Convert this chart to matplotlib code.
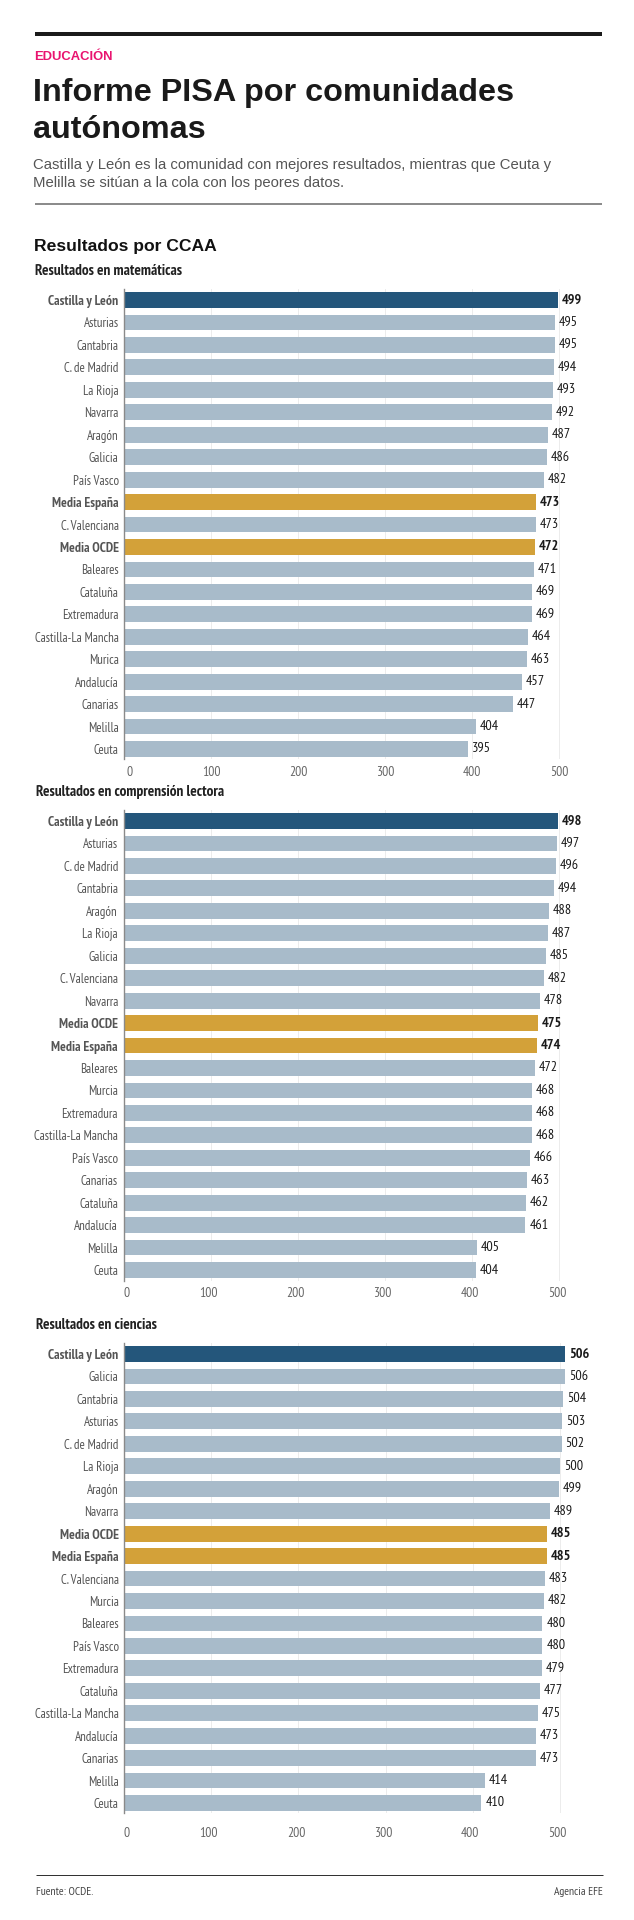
import matplotlib
matplotlib.use("Agg")
import matplotlib.pyplot as plt
from matplotlib.transforms import ScaledTranslation

W, H = 634, 1920
NARROW = ["PT Sans Narrow", "Roboto Condensed", "Liberation Sans", "DejaVu Sans"]
SANS = ["Liberation Sans", "DejaVu Sans"]

math_labels = ["Castilla y León", "Asturias", "Cantabria", "C. de Madrid", "La Rioja", "Navarra", "Aragón",
               "Galicia", "País Vasco", "Media España", "C. Valenciana", "Media OCDE", "Baleares", "Cataluña",
               "Extremadura", "Castilla-La Mancha", "Murica", "Andalucía", "Canarias", "Melilla", "Ceuta"]
math_values = [499, 495, 495, 494, 493, 492, 487, 486, 482, 473, 473, 472, 471, 469, 469, 464, 463, 457, 447, 404, 395]

read_labels = ["Castilla y León", "Asturias", "C. de Madrid", "Cantabria", "Aragón", "La Rioja", "Galicia",
               "C. Valenciana", "Navarra", "Media OCDE", "Media España", "Baleares", "Murcia", "Extremadura",
               "Castilla-La Mancha", "País Vasco", "Canarias", "Cataluña", "Andalucía", "Melilla", "Ceuta"]
read_values = [498, 497, 496, 494, 488, 487, 485, 482, 478, 475, 474, 472, 468, 468, 468, 466, 463, 462, 461, 405, 404]

sci_labels = ["Castilla y León", "Galicia", "Cantabria", "Asturias", "C. de Madrid", "La Rioja", "Aragón", "Navarra",
              "Media OCDE", "Media España", "C. Valenciana", "Murcia", "Baleares", "País Vasco", "Extremadura",
              "Cataluña", "Castilla-La Mancha", "Andalucía", "Canarias", "Melilla", "Ceuta"]
sci_values = [506, 506, 504, 503, 502, 500, 499, 489, 485, 485, 483, 482, 480, 480, 479, 477, 475, 473, 473, 414, 410]

xticks = [0, 100, 200, 300, 400, 500]

DARK, LIGHT, GOLD = "#24567b", "#a8bbca", "#d3a139"
AXIS_TEXT, LABEL_TEXT = "#666666", "#555555"

fig = plt.figure(figsize=(W / 100, H / 100), dpi=100, facecolor="white")


def px_text(x, y, s, **kw):
    return fig.text(x / W, 1 - y / H, s, va="center", **kw)


def rule(x0, x1, y, lw, color):
    fig.add_artist(plt.Line2D([x0 / W, x1 / W], [1 - y / H] * 2, lw=lw * 0.72, color=color,
                              transform=fig.transFigure, solid_capstyle="butt"))


def chart(labels, values, x0, x500, first_center, top, bottom, tick_y, tick_shift):
    pitch = 22.45
    ax = fig.add_axes([x0 / W, 1 - bottom / H, (x500 + 14 - x0) / W, (bottom - top) / H])
    scale = (x500 - x0) / 500
    ax.set_xlim(0, (x500 + 14 - x0) / scale)
    ax.set_ylim((bottom - first_center) / pitch, (top - first_center) / pitch)
    colors = []
    for lab in labels:
        colors.append(DARK if lab == "Castilla y León" else GOLD if lab.startswith("Media") else LIGHT)
    ys = list(range(len(labels)))
    ax.set_axisbelow(True)
    ax.barh(ys, values, height=15.8 / pitch, color=colors, linewidth=0)
    ax.set_xticks(xticks)
    ax.grid(axis="x", color="#ececec", lw=0.7)
    for s in ("top", "right", "bottom"):
        ax.spines[s].set_visible(False)
    ax.spines["left"].set_color("#8a8a8a")
    ax.spines["left"].set_linewidth(1.0)
    ax.tick_params(axis="both", length=0)
    ax.set_yticks(ys)
    ax.set_yticklabels(labels)
    ax.tick_params(axis="y", pad=4.0)
    for t, lab in zip(ax.get_yticklabels(), labels):
        strong = lab == "Castilla y León" or lab.startswith("Media")
        t.set_fontfamily(NARROW)
        t.set_fontsize(9.8 if strong else 9.3)
        t.set_fontweight("bold" if strong else "normal")
        t.set_color(LABEL_TEXT)
    ax.tick_params(axis="x", pad=(tick_y - bottom - 6) * 0.72)
    for i, t in enumerate(ax.get_xticklabels()):
        t.set_fontfamily(NARROW)
        t.set_fontsize(9.8)
        t.set_color(AXIS_TEXT)
        dx = (5 if i == 0 else 0) + tick_shift
        t.set_transform(t.get_transform() + ScaledTranslation(dx / 100, 0, fig.dpi_scale_trans))
    for y, v, lab in zip(ys, values, labels):
        strong = lab == "Castilla y León" or lab.startswith("Media")
        ax.annotate(str(v), (v, y), xytext=(2.8, 0), textcoords="offset points", va="center", ha="left",
                    fontfamily=NARROW, fontsize=10.2, color="#1a1a1a", annotation_clip=False,
                    fontweight="bold" if strong else "normal")
    return ax


rule(35, 602, 34.3, 4, "#1a1a1a")
px_text(34.5, 57, "EDUCACIÓN", color="#e9136f", fontsize=9.4, fontweight="bold", family=SANS)
px_text(33, 93.5, "Informe PISA por comunidades", color="#1a1a1a", fontsize=23.3, fontweight="bold", family=SANS)
px_text(33, 129.5, "autónomas", color="#1a1a1a", fontsize=23.3, fontweight="bold", family=SANS)
px_text(33, 165, "Castilla y León es la comunidad con mejores resultados, mientras que Ceuta y", color="#555555", fontsize=10.7, family=SANS)
px_text(33, 183.5, "Melilla se sitúan a la cola con los peores datos.", color="#555555", fontsize=10.7, family=SANS)
rule(35, 602, 204, 1.5, "#666666")
px_text(34.5, 247, "Resultados por CCAA", color="#111111", fontsize=12.6, fontweight="bold", family=SANS)
px_text(35, 271, "Resultados en matemáticas", color="#222222", fontsize=11, fontweight="bold", family=NARROW)
px_text(35.5, 792, "Resultados en comprensión lectora", color="#222222", fontsize=11, fontweight="bold", family=NARROW)
px_text(35.5, 1325, "Resultados en ciencias", color="#222222", fontsize=11, fontweight="bold", family=NARROW)

chart(math_labels, math_values, 124.2, 559.2, 300, 289, 759, 772, 0)
chart(read_labels, read_values, 123.6, 559.4, 821, 810, 1281, 1293, -2.5)
chart(sci_labels, sci_values, 124.2, 559.8, 1354, 1343, 1813, 1833, -2.5)

rule(36, 602.5, 1875, 1, "#333333")
px_text(35.5, 1892, "Fuente: OCDE.", color="#444444", fontsize=8.4, family=NARROW)
px_text(602.5, 1892, "Agencia EFE", color="#444444", fontsize=8.4, family=NARROW, ha="right")

fig.savefig("out.png", dpi=100)
